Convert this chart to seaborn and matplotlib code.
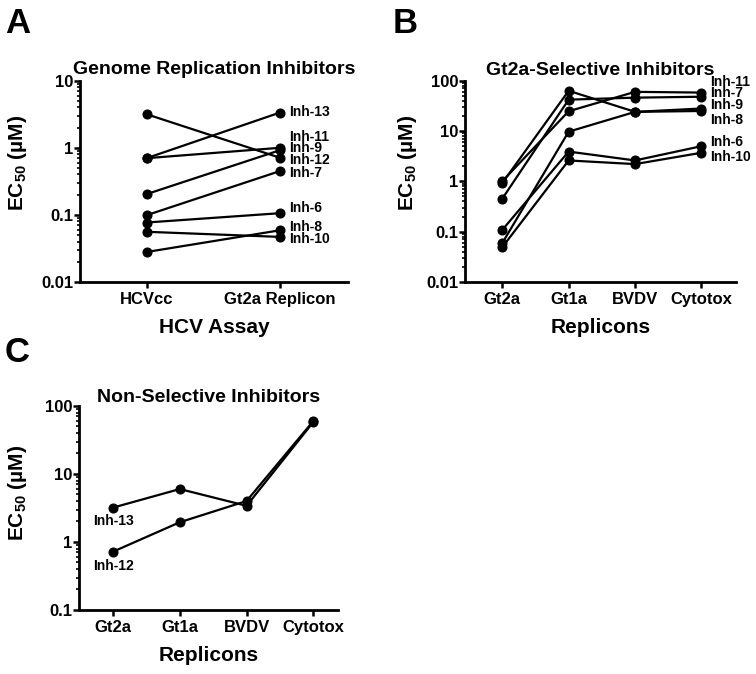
import numpy as np
import pandas as pd
import matplotlib
matplotlib.use("Agg")
import matplotlib.pyplot as plt
from matplotlib.ticker import LogLocator, FuncFormatter, NullFormatter
import seaborn as sns

# ---- data ----
# Panel A: genome replication inhibitors
assays_A = ["HCVcc", "Gt2a Replicon"]
inh_A = ["Inh-13", "Inh-11", "Inh-9", "Inh-12", "Inh-7", "Inh-6", "Inh-8", "Inh-10"]
hcvcc_A = [0.70, 0.70, 0.204, 3.16, 0.099, 0.077, 0.028, 0.056]
gt2a_A = [3.35, 1.0, 0.92, 0.71, 0.45, 0.106, 0.059, 0.047]
label_y_A = [3.4, 1.45, 0.99, 0.66, 0.42, 0.126, 0.066, 0.044]

# Panel B: Gt2a-selective inhibitors
replicons = ["Gt2a", "Gt1a", "BVDV", "Cytotox"]
inh_B = ["Inh-11", "Inh-7", "Inh-9", "Inh-8", "Inh-6", "Inh-10"]
gt2a_B = [1.0, 0.45, 0.92, 0.059, 0.108, 0.049]
gt1a_B = [24.7, 42, 63, 9.7, 3.9, 2.6]
bvdv_B = [60, 46, 24, 24, 2.6, 2.2]
cyto_B = [58, 48, 28, 25, 5.0, 3.7]
label_y_B = [95, 56, 33, 16.4, 6.0, 3.1]

# Panel C: non-selective inhibitors
inh_C = ["Inh-13", "Inh-12"]
gt2a_C = [3.2, 0.72]
gt1a_C = [6.0, 1.95]
bvdv_C = [3.4, 4.0]
cyto_C = [58, 60]

sns.set_style("ticks")
plt.rcParams["font.family"] = ["Liberation Sans", "DejaVu Sans"]
plt.rcParams["font.weight"] = "bold"
plt.rcParams["mathtext.fontset"] = "custom"
plt.rcParams["mathtext.rm"] = "Liberation Sans:bold"
plt.rcParams["mathtext.bf"] = "Liberation Sans:bold"
plt.rcParams["mathtext.it"] = "Liberation Sans:bold"
plt.rcParams["mathtext.default"] = "bf"
# plain black text and axes, like the original figure
for key in ["text.color", "axes.labelcolor", "xtick.color", "ytick.color", "axes.edgecolor"]:
    plt.rcParams[key] = "black"


def long_table(names, cats, cols):
    rows = []
    for i, n in enumerate(names):
        for c, vals in zip(cats, cols):
            rows.append({"inh": n, "assay": c, "ec50": vals[i]})
    return pd.DataFrame(rows)


def style_axis(ax, ymin, ymax, xlim):
    ax.set_yscale("log")
    ax.set_ylim(ymin, ymax)
    ax.set_xlim(*xlim)
    ax.yaxis.set_major_locator(LogLocator(base=10, numticks=10))
    ax.yaxis.set_minor_locator(LogLocator(base=10, subs=np.arange(2, 10), numticks=20))
    ax.yaxis.set_major_formatter(FuncFormatter(lambda v, p: f"{v:g}"))
    ax.yaxis.set_minor_formatter(NullFormatter())
    sns.despine(ax=ax)
    for s in ["left", "bottom"]:
        ax.spines[s].set_linewidth(2.0)
        ax.spines[s].set_color("black")
    ax.tick_params(axis="y", which="major", length=4, width=1.8, pad=1, labelsize=12)
    ax.tick_params(axis="y", which="minor", length=2.5, width=1.2)
    ax.tick_params(axis="x", which="major", length=4, width=1.8, pad=3, labelsize=12)
    for t in ax.get_xticklabels() + ax.get_yticklabels():
        t.set_fontweight("bold")


def draw(ax, df):
    sns.lineplot(data=df, x="assay", y="ec50", units="inh", estimator=None,
                 sort=False, color="black", linewidth=1.6, marker="o",
                 markersize=6.5, markeredgecolor="black", legend=False, ax=ax)


fig = plt.figure(figsize=(7.56, 6.74), dpi=100)
axA = fig.add_axes([0.1058, 0.5816, 0.3545, 0.2987])
axB = fig.add_axes([0.6151, 0.5816, 0.3585, 0.2987])
axC = fig.add_axes([0.1045, 0.0950, 0.3426, 0.3027])

ylab = "EC$_{50}$ (µM)"

# Panel A
dfA = long_table(inh_A, assays_A, [hcvcc_A, gt2a_A])
draw(axA, dfA)
style_axis(axA, 0.01, 10, (-0.5, 1.51))
for name, ly in zip(inh_A, label_y_A):
    axA.annotate(name, xy=(1, ly), xytext=(6.5, 0), textcoords="offset points",
                 ha="left", va="center", fontsize=10, fontweight="bold")
axA.set_title("Genome Replication Inhibitors", fontsize=14, fontweight="bold", pad=4.8)
axA.set_xlabel("HCV Assay", fontsize=15, fontweight="bold", labelpad=8)
axA.set_ylabel(ylab, fontsize=15, fontweight="bold", va="center")
axA.yaxis.set_label_coords(-0.235, 0.591)

# Panel B
dfB = long_table(inh_B, replicons, [gt2a_B, gt1a_B, bvdv_B, cyto_B])
draw(axB, dfB)
style_axis(axB, 0.01, 100, (-0.56, 3.52))
for name, ly in zip(inh_B, label_y_B):
    axB.annotate(name, xy=(3, ly), xytext=(6.5, 0), textcoords="offset points",
                 ha="left", va="center", fontsize=10, fontweight="bold")
axB.set_title("Gt2a-Selective Inhibitors", fontsize=14, fontweight="bold", pad=4)
axB.set_xlabel("Replicons", fontsize=15, fontweight="bold", labelpad=8)
axB.set_ylabel(ylab, fontsize=15, fontweight="bold", va="center")
axB.yaxis.set_label_coords(-0.212, 0.591)

# Panel C
dfC = long_table(inh_C, replicons, [gt2a_C, gt1a_C, bvdv_C, cyto_C])
draw(axC, dfC)
style_axis(axC, 0.1, 100, (-0.51, 3.37))
for name, v in zip(inh_C, gt2a_C):
    axC.annotate(name, xy=(0, v), xytext=(0, -10), textcoords="offset points",
                 ha="center", va="center", fontsize=10, fontweight="bold")
axC.set_title("Non-Selective Inhibitors", fontsize=14, fontweight="bold", pad=1.5)
axC.set_xlabel("Replicons", fontsize=15, fontweight="bold", labelpad=8)
axC.set_ylabel(ylab, fontsize=15, fontweight="bold", va="center")
axC.yaxis.set_label_coords(-0.239, 0.574)

# panel letters
fig.text(0.0066, 0.951, "A", fontsize=25, fontweight="bold", va="baseline")
fig.text(0.520, 0.951, "B", fontsize=25, fontweight="bold", va="baseline")
fig.text(0.0066, 0.463, "C", fontsize=25, fontweight="bold", va="baseline")

fig.savefig("out.png", dpi=100)
